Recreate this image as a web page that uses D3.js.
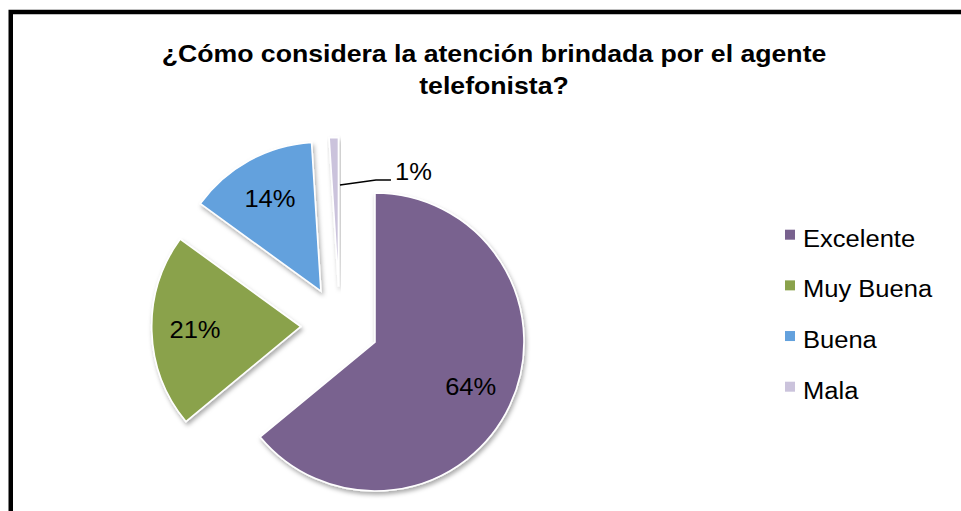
<!DOCTYPE html>
<html>
<head>
<meta charset="utf-8">
<script src="https://cdn.jsdelivr.net/npm/d3@7"></script>
<style>
  html, body { margin: 0; padding: 0; background: #fff; }
  svg { display: block; font-family: "Liberation Sans", Arial, sans-serif; }
</style>
</head>
<body>
<svg id="chart" width="961" height="511"></svg>
<script>
// Survey answers and their shares (percent)
const categories = ["Excelente", "Muy Buena", "Buena", "Mala"];
const values = [64, 21, 14, 1];
const colors = ["#79628f", "#8aa24b", "#63a1dd", "#cbc3dc"];
const titleLines = ["¿Cómo considera la atención brindada por el agente", "telefonista?"];

const W = 961, H = 511;
const svg = d3.select("#chart");

// Text in this chart is rendered slightly wide; stretch glyphs horizontally
const WIDEN = 1.11;
function widen(sel) {
  sel.each(function () {
    const w = this.getComputedTextLength();
    this.setAttribute("textLength", w * WIDEN);
    this.setAttribute("lengthAdjust", "spacingAndGlyphs");
  });
}

// Soft shadow under the pie slices
const defs = svg.append("defs");
const f = defs.append("filter").attr("id", "shadow")
  .attr("x", "-20%").attr("y", "-20%").attr("width", "140%").attr("height", "140%");
f.append("feDropShadow").attr("dx", 1.5).attr("dy", 3).attr("stdDeviation", 2.2)
  .attr("flood-color", "#000").attr("flood-opacity", 0.33);

// Chart frame (runs past the right and bottom edges)
svg.append("rect")
  .attr("x", 10.75).attr("y", 12)
  .attr("width", W + 20).attr("height", H + 20)
  .attr("fill", "none").attr("stroke", "#000").attr("stroke-width", 4.5);

// Title
svg.append("g").selectAll("text")
  .data(titleLines).join("text")
  .attr("x", 494)
  .attr("y", (d, i) => 62 + i * 32)
  .attr("text-anchor", "middle")
  .attr("font-size", 24).attr("font-weight", "bold").attr("fill", "#000")
  .text(d => d)
  .call(widen);

// Exploded pie
const cx = 339.7, cy = 325.4, R = 149, explode = 39;
const color = d3.scaleOrdinal().domain(categories).range(colors);
const pie = d3.pie().sort(null).value(d => d.value);
const data = categories.map((c, i) => ({ name: c, value: values[i] }));
const arcs = pie(data);
const arc = d3.arc().innerRadius(0).outerRadius(R);
const mid = d => (d.startAngle + d.endAngle) / 2;
const dir = a => [Math.sin(a), -Math.cos(a)];
const offset = d => { const [x, y] = dir(mid(d)); return [x * explode, y * explode]; };

const g = svg.append("g").attr("transform", `translate(${cx},${cy})`);

const slices = g.selectAll("g.slice").data(arcs).join("g")
  .attr("class", "slice")
  .attr("transform", d => { const [ox, oy] = offset(d); return `translate(${ox},${oy})`; });

slices.append("path")
  .attr("d", arc)
  .attr("fill", d => color(d.data.name))
  .attr("stroke", "#fff").attr("stroke-width", 1.6)
  .attr("stroke-linejoin", "miter")
  .attr("filter", "url(#shadow)");

// Inside labels for the larger slices
const labelArc = d3.arc().innerRadius(R * 0.71).outerRadius(R * 0.71);
const fmt = v => d3.format(".0f")(v) + "%";
slices.filter(d => d.data.value >= 5).append("text")
  .attr("x", d => labelArc.centroid(d)[0])
  .attr("y", d => labelArc.centroid(d)[1])
  .attr("dy", "0.35em")
  .attr("text-anchor", "middle")
  .attr("font-size", 23).attr("fill", "#000")
  .text(d => fmt(d.data.value))
  .call(widen);

// Small slice: label outside with a leader line
slices.filter(d => d.data.value < 5).each(function (d) {
  const s = d3.select(this);
  const [ex, ey] = dir(d.endAngle);
  const p0 = [ex * R * 0.68 + 1.5, ey * R * 0.68];
  const p1 = [p0[0] + 36, p0[1] - 5];
  const p2 = [p1[0] + 15, p1[1]];
  s.append("path")
    .attr("d", d3.line()([p0, p1, p2]))
    .attr("fill", "none").attr("stroke", "#000").attr("stroke-width", 1.5);
  s.append("text")
    .attr("x", p2[0] + 4).attr("y", p2[1])
    .attr("font-size", 23).attr("fill", "#000")
    .text(fmt(d.data.value))
    .call(widen);
});

// Legend
const ly = d3.scalePoint().domain(categories).range([234.7, 386.7]);
const legend = svg.append("g").selectAll("g").data(categories).join("g")
  .attr("transform", d => `translate(785,${ly(d)})`);
legend.append("rect")
  .attr("x", 0).attr("y", -5).attr("width", 10).attr("height", 10)
  .attr("fill", d => color(d));
legend.append("text")
  .attr("x", 18).attr("y", 12)
  .attr("font-size", 23).attr("fill", "#000")
  .text(d => d)
  .call(widen);
</script>
</body>
</html>
